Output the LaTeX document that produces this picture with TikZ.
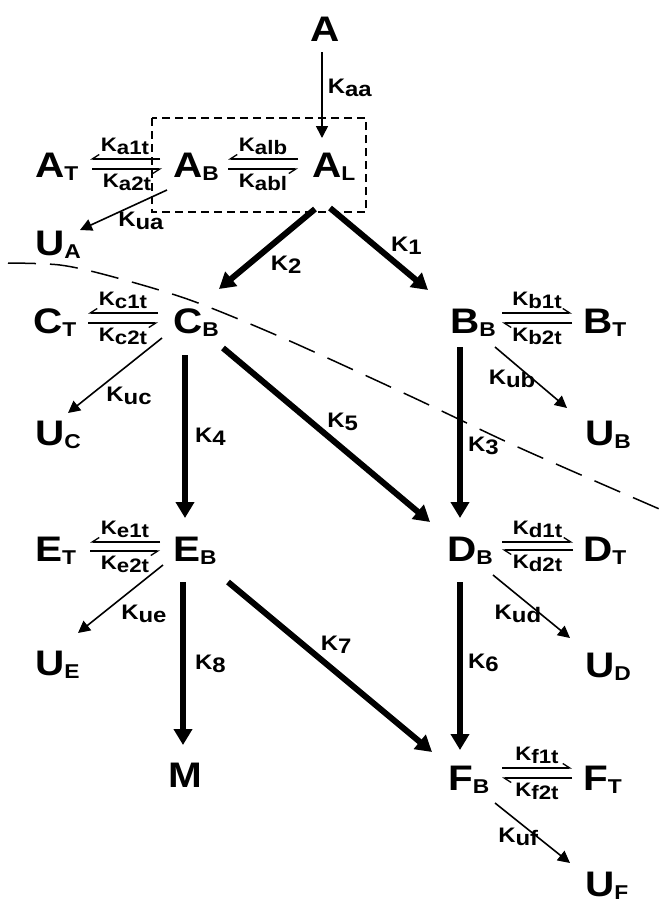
\documentclass[tikz,border=0pt]{standalone}
\usepackage{fontspec}
\setmainfont{Liberation Sans}[FakeStretch=1.14]
\usetikzlibrary{arrows.meta}

% species name with a small subscript, rate constant with lowered index
\newcommand{\spc}[2]{{\fontsize{35.5}{36}\selectfont #1}\raisebox{-3pt}{\fontsize{20}{20}\selectfont #2}}
\newcommand{\rk}[1]{K\raisebox{-3pt}{#1}}

\tikzset{
  species/.style={inner sep=0pt, anchor=base west},
  rate/.style={inner sep=0pt, font=\fontsize{21}{21}\selectfont\bfseries},
  eqrate/.style={inner sep=0pt, font=\fontsize{19.5}{20}\selectfont\bfseries},
  thinarrow/.style={line width=1.6pt, -{Triangle[length=12pt,width=12pt]}},
  thickarrow/.style={line width=6pt, -{Triangle[length=16pt,width=18pt]}},
  harpW/.style={line width=1.3pt, -{Straight Barb[harpoon,swap,length=7pt,width=9pt]}},
  harpE/.style={line width=1.3pt, -{Straight Barb[harpoon,length=7pt,width=9pt]}},
  boxline/.style={line width=1.5pt, dash pattern=on 8pt off 5pt},
  barrier/.style={line width=1.5pt, dash pattern=on 28pt off 14pt}
}

\begin{document}
\begin{tikzpicture}[x=1pt, y=-1pt, font=\bfseries]
    \useasboundingbox (0,0) rectangle (664,903);

    % species
    \node[species] (A)  at (310,41)  {\spc{A}{}};
    \node[species] (AT) at (35,177)  {\spc{A}{T}};
    \node[species] (AB) at (173,177) {\spc{A}{B}};
    \node[species] (AL) at (312,177) {\spc{A}{L}};
    \node[species] (UA) at (35,255)  {\spc{U}{A}};
    \node[species] (CT) at (33,333)  {\spc{C}{T}};
    \node[species] (CB) at (173,333) {\spc{C}{B}};
    \node[species] (UC) at (35,445)  {\spc{U}{C}};
    \node[species] (BB) at (450,333) {\spc{B}{B}};
    \node[species] (BT) at (583,333) {\spc{B}{T}};
    \node[species] (UB) at (585,445) {\spc{U}{B}};
    \node[species] (ET) at (35,561)  {\spc{E}{T}};
    \node[species] (EB) at (173,561) {\spc{E}{B}};
    \node[species] (UE) at (35,675)  {\spc{U}{E}};
    \node[species] (M)  at (168,787) {\spc{M}{}};
    \node[species] (DB) at (447,561) {\spc{D}{B}};
    \node[species] (DT) at (583,561) {\spc{D}{T}};
    \node[species] (UD) at (585,677) {\spc{U}{D}};
    \node[species] (FB) at (448,790) {\spc{F}{B}};
    \node[species] (FT) at (583,790) {\spc{F}{T}};
    \node[species] (UF) at (585,896) {\spc{U}{F}};

    % dashed box and dashed border line
    \draw[boxline] (152,118) rectangle (366,212);
    \draw[barrier] plot[smooth] coordinates {(8,263) (60,265) (110,276) (190,300) (283,338) (410,396) (520,448) (664,511)};

    % thin arrows
    \draw[thinarrow] ([shift={(12,11)}]A.base west) -- ([shift={(10,-39)}]AL.base west)
        node[rate, pos=.42, right=5pt] (kaa) {\rk{aa}};
    \draw[thinarrow] ([shift={(-6,13)}]AB.base west) -- ([shift={(45,-25)}]UA.base west)
        node[rate, pos=.3, below=9pt] (kua) {\rk{ua}};
    \draw[thinarrow] ([shift={(-11,5)}]CB.base west) -- ([shift={(33,-32)}]UC.base west)
        node[rate, pos=.6, anchor=north west, yshift=-3pt] (kuc) {\rk{uc}};
    \draw[thinarrow] ([shift={(-10,4)}]EB.base west) -- ([shift={(43,-42)}]UE.base west)
        node[rate, pos=.5, anchor=north west, yshift=-5pt] (kue) {\rk{ue}};
    \draw[thinarrow] ([shift={(45,14)}]BB.base west) -- ([shift={(-18,-37)}]UB.base west)
        node[rate, pos=.53, anchor=east, xshift=3pt] (kub) {\rk{ub}};
    \draw[thinarrow] ([shift={(46,14)}]DB.base west) -- ([shift={(-15,-39)}]UD.base west)
        node[rate, pos=.61, anchor=east, xshift=2pt] (kud) {\rk{ud}};
    \draw[thinarrow] ([shift={(47,13)}]FB.base west) -- ([shift={(-15,-33)}]UF.base west)
        node[rate, pos=.56, anchor=east, xshift=2pt] (kuf) {\rk{uf}};

    % thick arrows
    \draw[thickarrow] ([shift={(3,32)}]AL.base west) -- ([shift={(46,-44)}]CB.base west)
        node[rate, pos=.7, right=20pt] (k2) {\rk{2}};
    \draw[thickarrow] ([shift={(18,31)}]AL.base west) -- ([shift={(-22,-43)}]BB.base west)
        node[rate, pos=.46, right=13pt] (k1) {\rk{1}};
    \draw[thickarrow] ([shift={(12,22)}]CB.base west) -- ([shift={(12,-43)}]EB.base west)
        node[rate, pos=.5, right=7pt] (k4) {\rk{4}};
    \draw[thickarrow] ([shift={(50,15)}]CB.base west) -- ([shift={(-17,-39)}]DB.base west)
        node[rate, pos=.49, anchor=south west] (k5) {\rk{5}};
    \draw[thickarrow] ([shift={(10,14)}]BB.base west) -- ([shift={(13,-43)}]DB.base west)
        node[rate, pos=.58, right=5pt] (k3) {\rk{3}};
    \draw[thickarrow] ([shift={(10,21)}]EB.base west) -- ([shift={(15,-42)}]M.base west)
        node[rate, pos=.5, right=9pt] (k8) {\rk{8}};
    \draw[thickarrow] ([shift={(55,21)}]EB.base west) -- ([shift={(-16,-38)}]FB.base west)
        node[rate, pos=.44, anchor=south west] (k7) {\rk{7}};
    \draw[thickarrow] ([shift={(13,21)}]DB.base west) -- ([shift={(12,-40)}]FB.base west)
        node[rate, pos=.48, right=5pt] (k6) {\rk{6}};

    % exchange arrows
    \draw[harpW] ([shift={(-13,-18)}]AB.base west) -- ([shift={(55,-18)}]AT.base west)
        node[eqrate, midway, above=4pt] (ka1t) {\rk{a1t}};
    \draw[harpW] ([shift={(57,-8)}]AT.base west) -- ([shift={(-11,-8)}]AB.base west)
        node[eqrate, midway, below=4pt] (ka2t) {\rk{a2t}};
    \draw[harpW] ([shift={(-14,-18)}]AL.base west) -- ([shift={(55,-18)}]AB.base west)
        node[eqrate, midway, above=4pt] (kalb) {\rk{alb}};
    \draw[harpW] ([shift={(55,-8)}]AB.base west) -- ([shift={(-14,-8)}]AL.base west)
        node[eqrate, midway, below=4pt] (kabl) {\rk{abl}};
    \draw[harpW] ([shift={(-15,-20)}]CB.base west) -- ([shift={(55,-20)}]CT.base west)
        node[eqrate, midway, above=4pt] (kc1t) {\rk{c1t}};
    \draw[harpW] ([shift={(55,-10)}]CT.base west) -- ([shift={(-15,-10)}]CB.base west)
        node[eqrate, midway, below=4pt] (kc2t) {\rk{c2t}};
    \draw[harpW] ([shift={(-13,-19)}]EB.base west) -- ([shift={(55,-19)}]ET.base west)
        node[eqrate, midway, above=4pt] (ke1t) {\rk{e1t}};
    \draw[harpW] ([shift={(55,-10)}]ET.base west) -- ([shift={(-13,-10)}]EB.base west)
        node[eqrate, midway, below=4pt] (ke2t) {\rk{e2t}};
    \draw[harpE] ([shift={(52,-20)}]BB.base west) -- ([shift={(-11,-20)}]BT.base west)
        node[eqrate, midway, above=4pt] (kb1t) {\rk{b1t}};
    \draw[harpE] ([shift={(-11,-10)}]BT.base west) -- ([shift={(52,-10)}]BB.base west)
        node[eqrate, midway, below=4pt] (kb2t) {\rk{b2t}};
    \draw[harpE] ([shift={(55,-19)}]DB.base west) -- ([shift={(-10,-19)}]DT.base west)
        node[eqrate, midway, above=4pt] (kd1t) {\rk{d1t}};
    \draw[harpE] ([shift={(-10,-11)}]DT.base west) -- ([shift={(55,-11)}]DB.base west)
        node[eqrate, midway, below=4pt] (kd2t) {\rk{d2t}};
    \draw[harpE] ([shift={(54,-22)}]FB.base west) -- ([shift={(-11,-22)}]FT.base west)
        node[eqrate, midway, above=4pt] (kf1t) {\rk{f1t}};
    \draw[harpE] ([shift={(-11,-12)}]FT.base west) -- ([shift={(54,-12)}]FB.base west)
        node[eqrate, midway, below=4pt] (kf2t) {\rk{f2t}};
\end{tikzpicture}
\end{document}
